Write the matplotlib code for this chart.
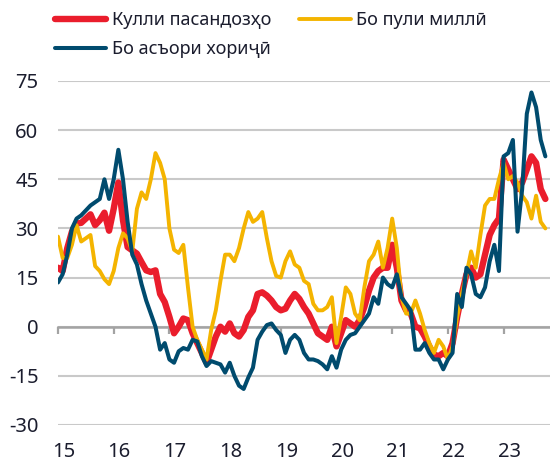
import numpy as np
import matplotlib
matplotlib.use("Agg")
import matplotlib.pyplot as plt

plt.rcParams['font.family'] = ['Noto Sans', 'DejaVu Sans']
plt.rcParams['axes.unicode_minus'] = False

# ---- data (monthly, Jan 2015 .. Oct 2023) ----
start_year = 15
series_names = ["Кулли пасандозҳо", "Бо пули миллӣ", "Бо асъори хориҷӣ"]

total = [18, 17, 24, 29, 31.5, 31.7, 33, 34.3, 31, 32.5, 34.8, 29.3,
         36, 44, 32.5, 24.3, 23.3, 22.3, 19.7, 17.2, 16.7, 17.2, 10, 7.5,
         3, -2, 0, 2.5, 2, -2, -5, -8, -11, -7, -3, 0,
         -1.5, 1, -2, -3, -1, 3, 5, 10, 10.5, 9.5, 8, 6,
         5, 5.5, 8, 10, 8.5, 6, 4, 1, -2, -3, -4, 0,
         -6, -2, 2, 1, 0, 2, 6, 11, 15, 17, 18, 18,
         25, 18, 8, 5, 4, 0, -0.5, -3, -6, -8.5, -9, -8,
         -9, -5, 3, 10, 16, 18, 15, 16, 22, 28, 31, 33,
         51, 48, 45, 42, 44, 48, 52, 50, 42, 39]

national = [27.5, 21, 21, 25, 31, 26, 27, 28, 18.5, 17, 14.5, 13,
            17, 24, 28.5, 27, 23, 36, 41, 39, 45, 53, 50, 45,
            30, 23.5, 22.5, 25, 12, 0, -4, -7, -10, -1, 5, 14,
            22, 22, 20, 24, 30, 35, 32, 33, 35, 27, 20, 15.5,
            15, 20, 23, 19, 18, 14, 13, 7, 5, 5, 6, 9,
            -5, 3, 12, 10, 4, 2, 12, 20, 22, 26, 18, 24,
            33, 24, 9, 4, 4, 8, 4, -1, -5, -8, -4, -6,
            -10, -6, 3, 10, 16, 23, 18, 28, 37, 39, 39, 45,
            50, 45, 46, 44, 40, 38, 33, 40, 32, 30]

foreign = [13.5, 16, 22, 30, 33, 34, 35.5, 37, 38, 39, 45, 39,
           45, 54, 45, 32, 22, 19, 13, 8, 4, 0, -7, -5,
           -10, -11, -7.5, -6.5, -7, -4, -4.5, -9, -12, -10.5, -11, -11.5,
           -14, -11, -15, -18, -19, -15.5, -12.5, -4, -1.5, 0.5, 1, -1,
           -2.5, -8, -4, -2.5, -4, -8, -10, -10, -10.5, -11.5, -13, -9,
           -12.5, -7, -4, -2.5, -2, 0, 2, 4, 9, 7, 15, 13,
           12, 16, 9, 7, 5, -7, -7, -5, -8, -10, -10, -13,
           -10, -8, 10, 6, 18, 16, 10, 9, 12, 20, 25, 17,
           52, 53, 57, 29, 42, 65, 71.5, 67, 57, 52]

year_labels = ["15", "16", "17", "18", "19", "20", "21", "22", "23"]
y_ticks = [-30, -15, 0, 15, 30, 45, 60, 75]

colors = ["#EA1D2C", "#F4B400", "#004B6E"]
widths = [4.6, 2.8, 2.9]

t = start_year + np.arange(len(total)) / 12.0
years = start_year + np.arange(len(year_labels))

fig = plt.figure(figsize=(5.5, 4.66), dpi=100)
ax = fig.add_axes([58/550, 1-425/466, (550-58)/550, (425-81)/466])
ax.set_xlim(15, 15 + 492/55.7)
ax.set_ylim(-30, 75)

text_color = "#1b1d2e"

# grid
ax.set_yticks(y_ticks)
ax.yaxis.grid(True, color="#c9c9c9", linewidth=1.5)
ax.set_axisbelow(True)
for s in ["left", "right", "top"]:
    ax.spines[s].set_visible(False)
ax.spines["bottom"].set_position(("data", 0))
ax.spines["bottom"].set_color("#a3a3a3")
ax.spines["bottom"].set_linewidth(1.8)
ax.spines["bottom"].set_zorder(1.5)

ax.tick_params(axis="y", length=0, pad=14, labelsize=14.5, labelcolor=text_color)
ax.set_xticks(years)
ax.tick_params(axis="x", direction="out", length=5, width=1.6, color="#a3a3a3",
               labelbottom=False)

sec = ax.secondary_xaxis(0.0)
sec.set_xticks(years + 0.1, labels=year_labels)
sec.tick_params(length=0, pad=12, labelsize=14.5, labelcolor=text_color)
sec.spines["bottom"].set_visible(False)

lines = []
for data, c, w, z in zip([total, national, foreign], colors, widths, [2, 3, 4]):
    ln, = ax.plot(t, data, color=c, linewidth=w, solid_joinstyle="round",
                  solid_capstyle="round", zorder=z)
    lines.append(ln)

handles = [lines[0], lines[2], lines[1]]
labels = [series_names[0], series_names[2], series_names[1]]
leg = fig.legend(handles, labels, ncol=2, loc="upper left",
                 bbox_to_anchor=(55/550, 1 - 11/466), frameon=False,
                 fontsize=13, handlelength=2.85, handletextpad=0.3,
                 columnspacing=1.55, labelspacing=0.62, borderpad=0,
                 borderaxespad=0)
for txt in leg.get_texts():
    txt.set_color(text_color)

fig.savefig("out.png", dpi=100)
